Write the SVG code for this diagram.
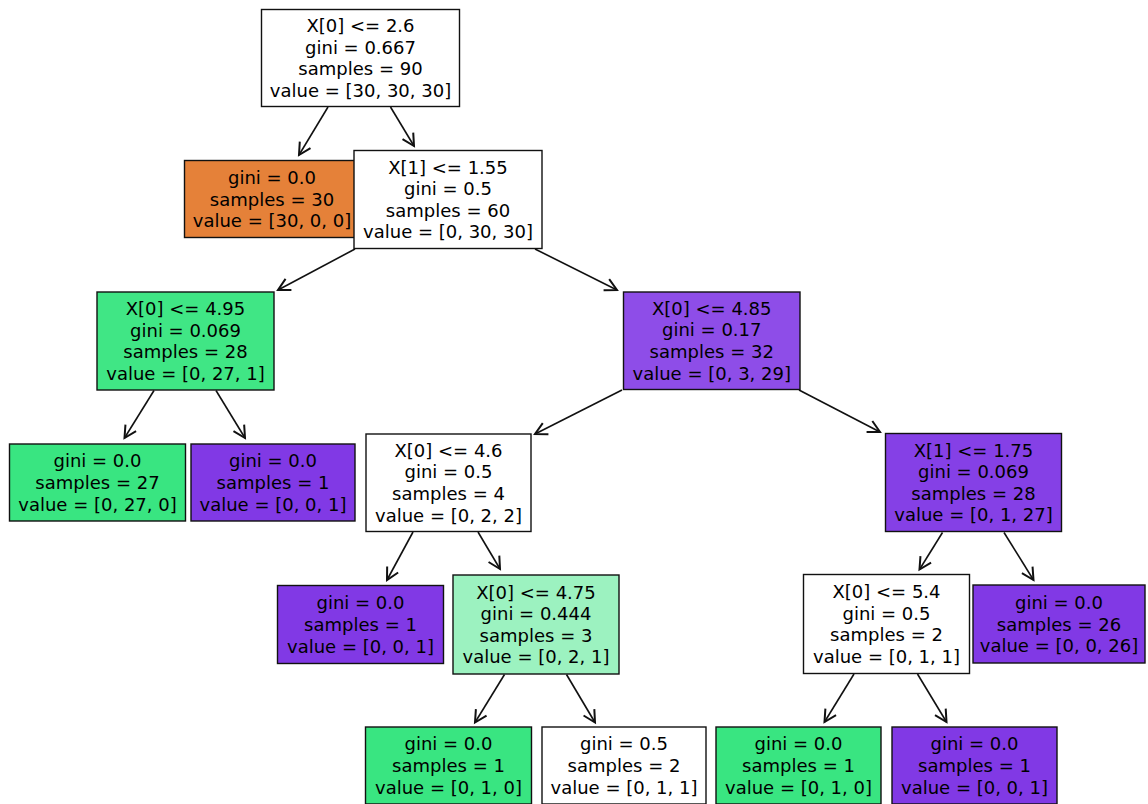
<svg xmlns="http://www.w3.org/2000/svg" width="1148" height="804" viewBox="0 0 1148 804">
<defs>
<marker id="ah" markerUnits="userSpaceOnUse" markerWidth="20" markerHeight="20" refX="0" refY="0" viewBox="-12 -8 14 16" orient="auto" overflow="visible">
<path d="M -9.5 -5 L 0 0 L -9.5 5" fill="none" stroke="#111" stroke-width="1.6" stroke-linejoin="miter"/>
</marker>
<style>
rect.n{stroke:#111;stroke-width:1.4}
.w{fill:#ffffff}
.o{fill:#e58139}
.g{fill:#39e581}
.g1{fill:#40e685}
.g2{fill:#9cf2c0}
.p{fill:#8139e5}
.p1{fill:#8540e6}
.p2{fill:#8e4de8}
text{font-family:"DejaVu Sans",sans-serif;font-size:18px;fill:#000;text-anchor:middle}
.c line{stroke:#111;stroke-width:1.6;marker-end:url(#ah)}
</style>
</defs>
<rect width="1148" height="804" fill="#ffffff"/>
<g class="c" id="connectors">
<line x1="328" y1="107" x2="299" y2="155"/>
<line x1="390.5" y1="107" x2="414" y2="146"/>
<line x1="355" y1="249" x2="278" y2="290"/>
<line x1="535" y1="249" x2="617" y2="290"/>
<line x1="154" y1="390.5" x2="124.5" y2="438"/>
<line x1="216" y1="390.5" x2="245" y2="438"/>
<line x1="622" y1="390" x2="535" y2="434"/>
<line x1="799" y1="390" x2="880" y2="432"/>
<line x1="413" y1="532" x2="387" y2="580"/>
<line x1="478" y1="532" x2="500" y2="569"/>
<line x1="942.5" y1="532.5" x2="919.5" y2="569.5"/>
<line x1="1004" y1="532.5" x2="1033.5" y2="580"/>
<line x1="504.5" y1="674.5" x2="475" y2="722.5"/>
<line x1="566.5" y1="674.5" x2="595" y2="722.5"/>
<line x1="854" y1="674" x2="824.5" y2="722"/>
<line x1="917.5" y1="674" x2="946.5" y2="722"/>
</g>
<g id="n0"><rect class="n w" x="261.5" y="9.5" width="198" height="97"/>
<text x="360.5" y="32.1">X[0] &lt;= 2.6<tspan x="360.5" dy="21.6">gini = 0.667</tspan><tspan x="360.5" dy="21.6">samples = 90</tspan><tspan x="360.5" dy="21.6">value = [30, 30, 30]</tspan></text></g>
<g id="n1"><rect class="n o" x="184.5" y="160.5" width="175" height="77"/>
<text x="272" y="183.9">gini = 0.0<tspan x="272" dy="21.6">samples = 30</tspan><tspan x="272" dy="21.6">value = [30, 0, 0]</tspan></text></g>
<g id="n2"><rect class="n w" x="354" y="150.5" width="188" height="98"/>
<text x="448" y="173.6">X[1] &lt;= 1.55<tspan x="448" dy="21.6">gini = 0.5</tspan><tspan x="448" dy="21.6">samples = 60</tspan><tspan x="448" dy="21.6">value = [0, 30, 30]</tspan></text></g>
<g id="n3"><rect class="n g1" x="97" y="292" width="177" height="98"/>
<text x="185.5" y="315.1">X[0] &lt;= 4.95<tspan x="185.5" dy="21.6">gini = 0.069</tspan><tspan x="185.5" dy="21.6">samples = 28</tspan><tspan x="185.5" dy="21.6">value = [0, 27, 1]</tspan></text></g>
<g id="n4"><rect class="n g" x="9.5" y="444" width="176" height="77"/>
<text x="97.5" y="467.4">gini = 0.0<tspan x="97.5" dy="21.6">samples = 27</tspan><tspan x="97.5" dy="21.6">value = [0, 27, 0]</tspan></text></g>
<g id="n5"><rect class="n p" x="191" y="444" width="164" height="77"/>
<text x="273" y="467.4">gini = 0.0<tspan x="273" dy="21.6">samples = 1</tspan><tspan x="273" dy="21.6">value = [0, 0, 1]</tspan></text></g>
<g id="n6"><rect class="n p2" x="623.5" y="292" width="176.5" height="97.5"/>
<text x="711.75" y="314.85">X[0] &lt;= 4.85<tspan x="711.75" dy="21.6">gini = 0.17</tspan><tspan x="711.75" dy="21.6">samples = 32</tspan><tspan x="711.75" dy="21.6">value = [0, 3, 29]</tspan></text></g>
<g id="n7"><rect class="n w" x="366" y="434" width="165" height="97.5"/>
<text x="448.5" y="456.85">X[0] &lt;= 4.6<tspan x="448.5" dy="21.6">gini = 0.5</tspan><tspan x="448.5" dy="21.6">samples = 4</tspan><tspan x="448.5" dy="21.6">value = [0, 2, 2]</tspan></text></g>
<g id="n8"><rect class="n p1" x="885.5" y="433.5" width="176" height="98"/>
<text x="973.5" y="456.6">X[1] &lt;= 1.75<tspan x="973.5" dy="21.6">gini = 0.069</tspan><tspan x="973.5" dy="21.6">samples = 28</tspan><tspan x="973.5" dy="21.6">value = [0, 1, 27]</tspan></text></g>
<g id="n9"><rect class="n p" x="277.5" y="585.5" width="166" height="78"/>
<text x="360.5" y="609.4">gini = 0.0<tspan x="360.5" dy="21.6">samples = 1</tspan><tspan x="360.5" dy="21.6">value = [0, 0, 1]</tspan></text></g>
<g id="n10"><rect class="n g2" x="453" y="575" width="166" height="99"/>
<text x="536" y="598.6">X[0] &lt;= 4.75<tspan x="536" dy="21.6">gini = 0.444</tspan><tspan x="536" dy="21.6">samples = 3</tspan><tspan x="536" dy="21.6">value = [0, 2, 1]</tspan></text></g>
<g id="n11"><rect class="n w" x="803.5" y="574.5" width="166" height="99"/>
<text x="886.5" y="598.1">X[0] &lt;= 5.4<tspan x="886.5" dy="21.6">gini = 0.5</tspan><tspan x="886.5" dy="21.6">samples = 2</tspan><tspan x="886.5" dy="21.6">value = [0, 1, 1]</tspan></text></g>
<g id="n12"><rect class="n p" x="973" y="585" width="172" height="78"/>
<text x="1059" y="608.9">gini = 0.0<tspan x="1059" dy="21.6">samples = 26</tspan><tspan x="1059" dy="21.6">value = [0, 0, 26]</tspan></text></g>
<g id="n13"><rect class="n g" x="365.5" y="727" width="166" height="77"/>
<text x="448.5" y="750.4">gini = 0.0<tspan x="448.5" dy="21.6">samples = 1</tspan><tspan x="448.5" dy="21.6">value = [0, 1, 0]</tspan></text></g>
<g id="n14"><rect class="n w" x="542" y="727" width="164" height="77"/>
<text x="624" y="750.4">gini = 0.5<tspan x="624" dy="21.6">samples = 2</tspan><tspan x="624" dy="21.6">value = [0, 1, 1]</tspan></text></g>
<g id="n15"><rect class="n g" x="716" y="727" width="165" height="77"/>
<text x="798.5" y="750.4">gini = 0.0<tspan x="798.5" dy="21.6">samples = 1</tspan><tspan x="798.5" dy="21.6">value = [0, 1, 0]</tspan></text></g>
<g id="n16"><rect class="n p" x="892" y="727" width="165" height="77"/>
<text x="974.5" y="750.4">gini = 0.0<tspan x="974.5" dy="21.6">samples = 1</tspan><tspan x="974.5" dy="21.6">value = [0, 0, 1]</tspan></text></g>
</svg>
